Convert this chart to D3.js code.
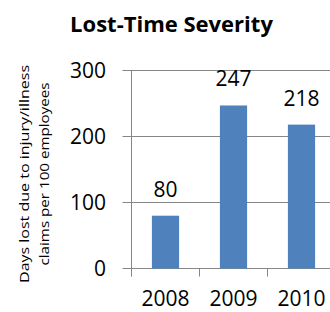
<!DOCTYPE html>
<html>
<head>
<meta charset="utf-8">
<script src="https://cdn.jsdelivr.net/npm/d3@7"></script>
<style>
  html, body { margin: 0; padding: 0; background: #fff; }
  svg { display: block; }
  text { font-family: "Open Sans", sans-serif; fill: #000; }
</style>
</head>
<body>
<svg id="chart" width="330" height="312"></svg>
<script>
const categories = ["2008", "2009", "2010"];
const values = [80, 247, 218];
const yTicks = [0, 100, 200, 300];
const title = "Lost-Time Severity";
const yTitleLines = ["Days lost due to injury/illness", "claims per 100 employees"];

const svg = d3.select("#chart");

const x = d3.scaleBand().domain(categories).range([131.5, 335.5])
  .paddingInner(0.6).paddingOuter(0.3);
const y = d3.scaleLinear().domain([0, 300]).range([268.5, 70.5]);

const axisColor = "#868686";

// gridlines + y ticks
svg.append("g").selectAll("line").data(yTicks).join("line")
  .attr("x1", 122.5).attr("x2", 335.5)
  .attr("y1", d => y(d)).attr("y2", d => y(d))
  .attr("stroke", axisColor).attr("stroke-width", 1);

// y axis line
svg.append("line")
  .attr("x1", 131.5).attr("x2", 131.5)
  .attr("y1", y(300)).attr("y2", y(0) + 8)
  .attr("stroke", axisColor);

// x ticks at band boundaries
const step = x.step();
const edges = [x.range()[0]].concat(categories.map(c => x(c) - step * 0.3 + step));
svg.append("g").selectAll("line").data(edges).join("line")
  .attr("x1", d => d).attr("x2", d => d)
  .attr("y1", y(0)).attr("y2", y(0) + 8)
  .attr("stroke", axisColor);

// y tick labels
svg.append("g").selectAll("text").data(yTicks).join("text")
  .attr("x", 106).attr("y", d => y(d))
  .attr("dy", "0.36em")
  .attr("text-anchor", "end")
  .style("font-size", "21px")
  .text(d => d);

// bars
svg.append("g").selectAll("rect").data(values).join("rect")
  .attr("x", (d, i) => x(categories[i]))
  .attr("width", x.bandwidth())
  .attr("y", d => y(d))
  .attr("height", d => y(0) - y(d))
  .attr("fill", "#4F81BD");

// data labels
svg.append("g").selectAll("text").data(values).join("text")
  .attr("x", (d, i) => x(categories[i]) + x.bandwidth() / 2)
  .attr("y", d => y(d) - 19)
  .attr("text-anchor", "middle")
  .style("font-size", "21px")
  .text(d => d);

// x labels
svg.append("g").selectAll("text").data(categories).join("text")
  .attr("x", d => x(d) + x.bandwidth() / 2)
  .attr("y", 306)
  .attr("text-anchor", "middle")
  .style("font-size", "21px")
  .text(d => d);

// title
const t = svg.append("text")
  .attr("x", 171.5).attr("y", 31.5)
  .attr("text-anchor", "middle")
  .style("font-size", "22px").style("font-weight", "bold")
  .text(title);
if (t.node().getComputedTextLength() > 213) {
  t.attr("textLength", 213).attr("lengthAdjust", "spacingAndGlyphs");
}

// y title
const yt = svg.append("g");
const yLens = [218, 183];
const yBase = [29, 49];
yTitleLines.forEach((line, i) => {
  const tx = yt.append("text")
    .attr("transform", `translate(${yBase[i]},174) rotate(-90)`)
    .attr("text-anchor", "middle")
    .style("font-size", "13px")
    .text(line);
  const L = tx.node().getComputedTextLength();
  if (Math.abs(L - yLens[i]) > 4) {
    tx.attr("textLength", yLens[i]).attr("lengthAdjust", "spacingAndGlyphs");
  }
});
</script>
</body>
</html>
